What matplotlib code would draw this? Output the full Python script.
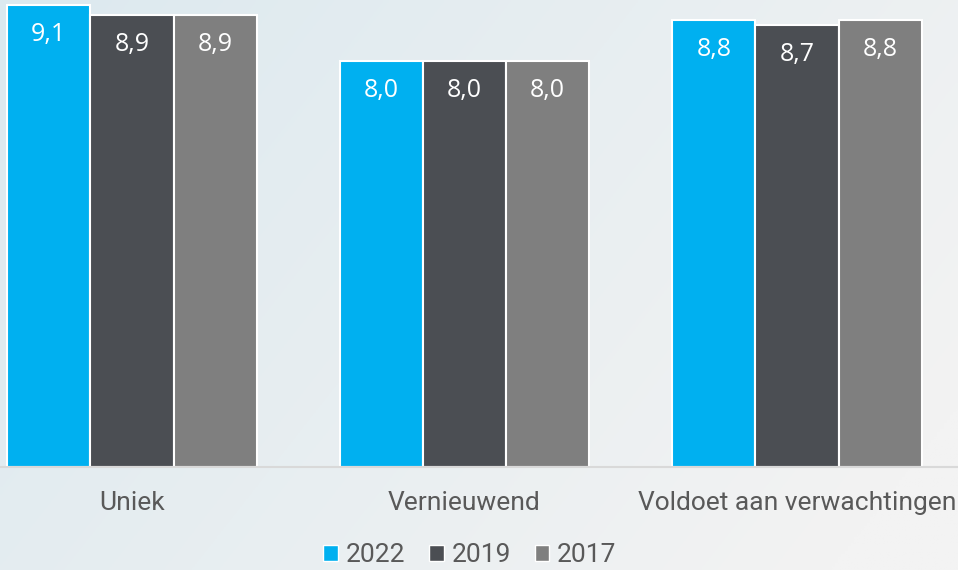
import numpy as np
import matplotlib
matplotlib.use("Agg")
import matplotlib.pyplot as plt
from matplotlib.patches import Patch

plt.rcParams['font.family'] = ['Roboto', 'DejaVu Sans']

categories = ['Uniek', 'Vernieuwend', 'Voldoet aan verwachtingen']
years = ['2022', '2019', '2017']
values_2022 = [9.1, 8.0, 8.8]
values_2019 = [8.9, 8.0, 8.7]
values_2017 = [8.9, 8.0, 8.8]
series = [values_2022, values_2019, values_2017]
colors = ['#00B0F0', '#4B4E53', '#7F7F7F']

W, H = 958, 570
fig = plt.figure(figsize=(W / 100, H / 100), dpi=100)

# soft diagonal background gradient
bg = fig.add_axes([0, 0, 1, 1], zorder=-10)
yy, xx = np.mgrid[0:1:200j, 0:1:300j]
t = np.clip(xx * 0.75 + yy * 0.35, 0, 1)
c0 = np.array([0xDC, 0xE9, 0xEF]) / 255
c1 = np.array([0xF3, 0xF3, 0xF3]) / 255
img = c0[None, None, :] * (1 - t[..., None]) + c1[None, None, :] * t[..., None]
bg.imshow(img, aspect='auto', extent=[0, 1, 0, 1], origin='upper')
bg.axis('off')

ax = fig.add_axes([0, 103 / H, 1, 467 / H])
ax.set_facecolor('none')

x = np.arange(len(categories))
width = 0.25
for i, (vals, col) in enumerate(zip(series, colors)):
    pos = x + (i - 1) * width
    bars = ax.bar(pos, vals, width, color=col, edgecolor='white', linewidth=1.5,
                  label=years[i], zorder=2)
    for b, v in zip(bars, vals):
        ax.annotate(f'{v:.1f}'.replace('.', ','),
                    (b.get_x() + b.get_width() / 2, v),
                    xytext=(0, -21), textcoords='offset points',
                    ha='center', va='center', color='white', fontsize=18,
                    family=['Open Sans', 'DejaVu Sans'])

ax.set_xlim((0 - 132) / 332.5, (W - 132) / 332.5)
ax.set_ylim(0, 9.2)
ax.set_yticks([])
ax.set_xticks(x)
ax.set_xticklabels(categories, fontsize=19, color='#595959')
ax.tick_params(axis='x', length=0, pad=17)
for s in ['top', 'right', 'left']:
    ax.spines[s].set_visible(False)
ax.spines['bottom'].set_color('#D9D9D9')
ax.spines['bottom'].set_linewidth(1.5)

handles = [Patch(facecolor=c, edgecolor='white', linewidth=1) for c in colors]
fig.legend(handles, years, loc='center', bbox_to_anchor=(470 / W, 1 - 555 / H),
           ncol=3, frameon=False, fontsize=19, labelcolor='#595959',
           handlelength=0.55, handleheight=0.55, handletextpad=0.3,
           columnspacing=0.9)

fig.savefig('out.png', dpi=100)
